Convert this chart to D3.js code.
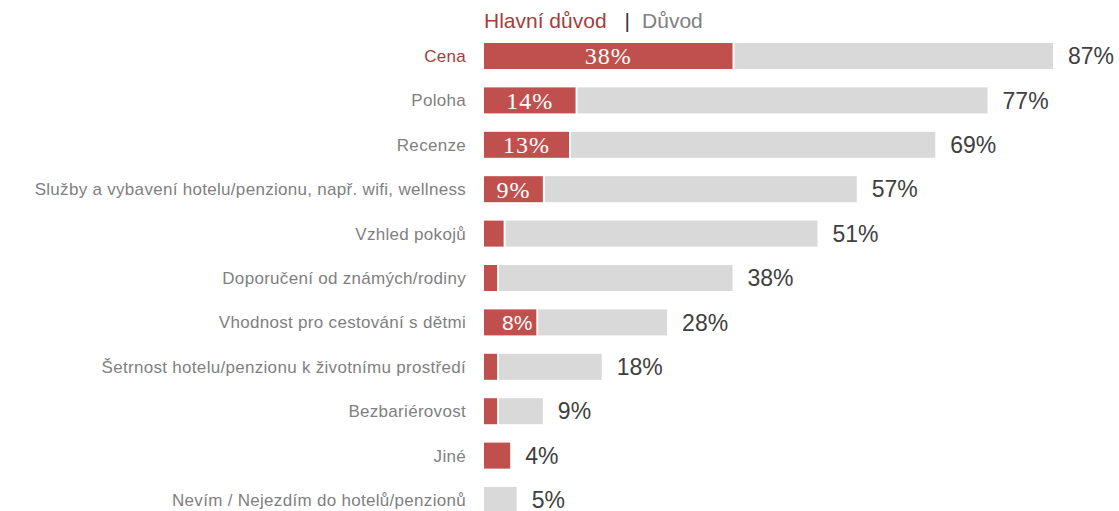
<!DOCTYPE html>
<html>
<head>
<meta charset="utf-8">
<script src="https://cdn.jsdelivr.net/npm/d3@7"></script>
<style>
  body { margin: 0; background: #fff; }
  svg { display: block; }
</style>
</head>
<body>
<script>
var categories = [
	"Cena",
	"Poloha",
	"Recenze",
	"Služby a vybavení hotelu/penzionu, např. wifi, wellness",
	"Vzhled pokojů",
	"Doporučení od známých/rodiny",
	"Vhodnost pro cestování s dětmi",
	"Šetrnost hotelu/penzionu k životnímu prostředí",
	"Bezbariérovost",
	"Jiné",
	"Nevím / Nejezdím do hotelů/penzionů"
];
// hlavní důvod (red) and důvod celkem (grey end)
var mainReason = [38, 14, 13, 9, 3, 2, 8, 2, 2, 4, 0];
var anyReason = [87, 77, 69, 57, 51, 38, 28, 18, 9, 4, 5];
// which red values got a label inside the bar
var innerLabels = ["38%", "14%", "13%", "9%", null, null, "8%", null, null, null, null];
var legendItems = ["Hlavní důvod", "Důvod"];

var W = 1119, H = 511;
var RED = "#c0504d", DARK_RED = "#a33e3b", GREY = "#d9d9d9";

var svg = d3.select("body").append("svg").attr("width", W).attr("height", H);

var x = d3.scaleLinear().domain([0, 100]).range([484, 484 + 654]);
var y = d3.scaleBand().domain(categories)
	.range([33.8, 33.8 + 11 * 44.4])
	.paddingInner(0.414).paddingOuter(0.207);

var rows = categories.map(function(c, i) {
	return { cat: c, main: mainReason[i], total: anyReason[i], inner: innerLabels[i], i: i };
});

// grey bars (rest of the total)
svg.selectAll(".grey").data(rows.filter(function(d) { return d.total > d.main; }))
	.enter().append("rect")
	.attr("class", "grey")
	.attr("x", function(d) { return d.main > 0 ? x(d.main) + 2 : x(0); })
	.attr("y", function(d) { return y(d.cat); })
	.attr("width", function(d) { return x(d.total) - (d.main > 0 ? x(d.main) + 2 : x(0)); })
	.attr("height", y.bandwidth())
	.attr("fill", GREY);

// red bars
svg.selectAll(".red").data(rows.filter(function(d) { return d.main > 0; }))
	.enter().append("rect")
	.attr("class", "red")
	.attr("x", x(0))
	.attr("y", function(d) { return y(d.cat); })
	.attr("width", function(d) { return x(d.main) - x(0); })
	.attr("height", y.bandwidth())
	.attr("fill", RED);

// labels inside red bars
svg.selectAll(".inner").data(rows.filter(function(d) { return d.inner; }))
	.enter().append("text")
	.attr("class", "inner")
	.attr("x", function(d) { return (x(0) + x(d.main)) / 2 + (d.i == 6 ? 7 : 0); })
	.attr("y", function(d) { return y(d.cat) + y.bandwidth() / 2; })
	.attr("dy", "0.35em")
	.attr("text-anchor", "middle")
	.attr("fill", "#fff")
	.style("font-family", function(d) { return d.i == 6 ? "'Liberation Sans', Arial, sans-serif" : "'Liberation Serif', serif"; })
	.style("font-size", function(d) { return d.i == 6 ? "21px" : "24px"; })
	.style("letter-spacing", function(d) { return d.i == 6 ? "0px" : "1px"; })
	.text(function(d) { return d.inner; });

// total labels
svg.selectAll(".val").data(rows)
	.enter().append("text")
	.attr("class", "val")
	.attr("x", function(d) { return Math.max(x(d.total), x(d.main)) + 15; })
	.attr("y", function(d) { return y(d.cat) + y.bandwidth() / 2; })
	.attr("dy", "0.36em")
	.attr("fill", "#404040")
	.style("font-family", "'Liberation Sans', Arial, sans-serif")
	.style("font-size", "23px")
	.text(function(d) { return d.total + "%"; });

// category labels
svg.selectAll(".cat").data(rows)
	.enter().append("text")
	.attr("class", "cat")
	.attr("x", 466)
	.attr("y", function(d) { return y(d.cat) + y.bandwidth() / 2; })
	.attr("dy", "0.35em")
	.attr("text-anchor", "end")
	.attr("fill", function(d) { return d.i == 0 ? DARK_RED : "#7f7f7f"; })
	.style("font-family", "'Liberation Sans', Arial, sans-serif")
	.style("font-size", "17px")
	.style("letter-spacing", "0.3px")
	.text(function(d) { return d.cat; });

// legend
var lg = svg.append("text")
	.attr("x", 484).attr("y", 28)
	.style("font-family", "'Liberation Sans', Arial, sans-serif")
	.style("font-size", "21px");
lg.append("tspan").attr("fill", DARK_RED).text(legendItems[0]);
lg.append("tspan").attr("fill", "#333").attr("dx", 18).text("|");
lg.append("tspan").attr("fill", "#808080").attr("dx", 12).text(legendItems[1]);
</script>
</body>
</html>
